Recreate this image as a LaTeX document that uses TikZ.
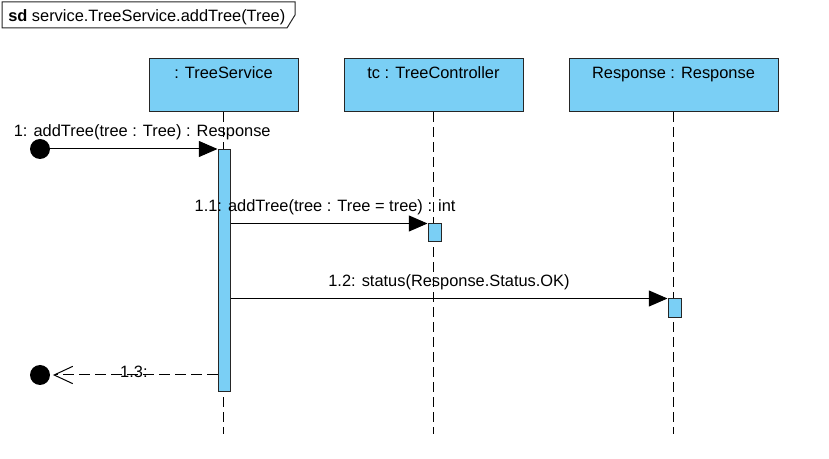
\documentclass[tikz,border=0pt]{standalone}
\usepackage{fontspec}
\setmainfont{Liberation Sans}
\usepackage{xcolor}
\usetikzlibrary{positioning, arrows.meta, calc}
\definecolor{lifeblue}{RGB}{122,207,245}

\begin{document}
\begin{tikzpicture}[
  x=0.75pt, y=-0.75pt,
  every node/.style={font=\fontsize{12.3}{14}\selectfont},
  headbox/.style={draw=black!85, line width=0.75pt, fill=lifeblue, minimum height=39.75pt, inner sep=0pt},
  headtext/.style={anchor=north, inner sep=0pt, yshift=-6pt},
  actbox/.style={draw=black!85, line width=0.75pt, fill=lifeblue, inner sep=0pt},
  lifeline/.style={draw=black, line width=0.9pt, dash pattern=on 7.5pt off 3.75pt},
  msgline/.style={draw=black, line width=0.75pt, -{Triangle[length=14pt, width=12pt]}},
  retline/.style={draw=black, line width=0.75pt, dash pattern=on 8pt off 4pt, -{Straight Barb[length=14pt, width=13pt]}, shorten >=2pt},
  enddot/.style={circle, fill=black, minimum size=15pt, inner sep=0pt},
  msglabel/.style={anchor=base, inner sep=0pt, yshift=9pt}
]
\useasboundingbox (0,0) rectangle (829,459);

% Frame label
\draw[black!85, line width=0.75pt] (2,2) -- (295,2) -- (295,15) -- (287,28) -- (2,28) -- cycle;
\node[anchor=base west, inner sep=0pt] (title) at (8,22) {\textbf{sd} service.TreeService.addTree(Tree)};

% Lifeline heads
\node[headbox, minimum width=111.75pt, label={[headtext]north:{: TreeService}}] (ts) at (223.5,85.5) {};
\node[headbox, minimum width=134.25pt, label={[headtext]north:{tc : TreeController}}] (tc) at (433.5,85.5) {};
\node[headbox, minimum width=156.75pt, label={[headtext]north:{Response : Response}}] (resp) at (673.5,85.5) {};

% Lifelines
\coordinate (tsend) at (223.5,434);
\coordinate (tcend) at (433.5,434);
\coordinate (respend) at (673.5,434);
\draw[lifeline] (ts) -- (tsend);
\draw[lifeline] (tc) -- (tcend);
\draw[lifeline] (resp) -- (respend);

% Activations
\node[actbox, minimum width=9pt, minimum height=181.5pt] (act1) at (224,271) {};
\node[actbox, minimum width=9.75pt, minimum height=13.5pt] (act2) at (434.5,233) {};
\node[actbox, minimum width=9.75pt, minimum height=14.25pt] (act3) at (674.5,308.5) {};

% Found / lost message ends
\node[enddot] (found) at (40,149) {};
\node[enddot] (lost) at (40,375) {};

% Messages
\draw[msgline] (found) -- (found -| act1.west)
  node[msglabel, pos=0.55] {1: addTree(tree : Tree) : Response};
\draw[msgline] (act1.east |- act2.north) -- (act2.north west)
  node[msglabel, pos=0.48] {1.1: addTree(tree : Tree = tree) : int};
\draw[msgline] (act1.east |- act3.north) -- (act3.north west)
  node[msglabel, midway] {1.2: status(Response.Status.OK)};
\draw[retline] (act1.west |- lost) -- (lost)
  node[anchor=base, inner sep=0pt, yshift=-2pt, midway] {1.3:};

\end{tikzpicture}
\end{document}
